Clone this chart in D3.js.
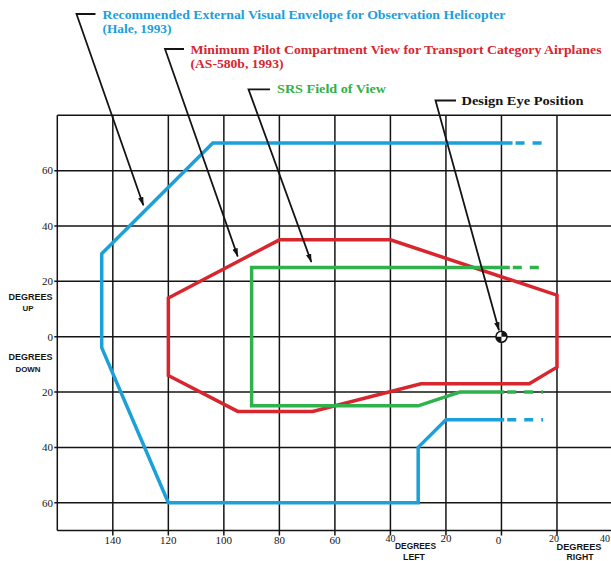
<!DOCTYPE html>
<html>
<head>
<meta charset="utf-8">
<script src="https://cdn.jsdelivr.net/npm/d3@7"></script>
<style>
  html, body { margin: 0; padding: 0; background: #fff; }
  svg { display: block; }
</style>
</head>
<body>
<svg id="chart" width="611" height="561"></svg>
<script>
// Angular field-of-view envelopes (degrees; x: + right / - left, y: + up / - down)

const xGrid = [-160, -140, -120, -100, -80, -60, -40, -20, 0, 20, 40];
const yGrid = [80, 60, 40, 20, 0, -20, -40, -60, -70];
const xTickValues = [-140, -120, -100, -80, -60, -40, -20, 0, 20, 40];
const xTickLabels = ["140", "120", "100", "80", "60", "40", "20", "0", "20", "40"];
const yTickValues = [60, 40, 20, 0, -20, -40, -60];
const yTickLabels = ["60", "40", "20", "0", "20", "40", "60"];

// Recommended external visual envelope, observation helicopter (Hale, 1993)
const helicopterSolid = [[4, 70], [-104, 70], [-144, 30], [-144, -4], [-120, -60],
                         [-30, -60], [-30, -40], [-20, -30], [1, -30]];
const helicopterDashed = [[[4, 70], [17, 70]], [[1, -30], [15, -30]]];

// Minimum pilot compartment view, transport category airplanes (AS-580b, 1993)
const transportView = [[-80, 35], [-40, 35], [20, 15], [20, -11], [10, -17], [-29, -17],
                       [-68, -27], [-95, -27], [-120, -14], [-120, 14]];

// SRS field of view
const srsSolid = [[3, 25], [-90, 25], [-90, -25], [-30, -25], [-15, -20], [1, -20]];
const srsDashed = [[[3, 25], [15, 25]], [[1, -20], [15, -20]]];

// Design eye position
const designEye = [0, 0];

const colors = { blue: "#1ca0da", red: "#d8262f", green: "#2fb14c", ink: "#141414" };

const svg = d3.select("#chart");
const x = d3.scaleLinear().domain([-160, 40]).range([57.3, 612.5]);
const y = d3.scaleLinear().domain([80, -70]).range([115.3, 530.4]);
const line = d3.line().x(d => x(d[0])).y(d => y(d[1]));

// grid
const grid = svg.append("g").attr("stroke", colors.ink).attr("stroke-width", 1.5).attr("fill", "none");
grid.selectAll(".v").data(xGrid).join("line")
  .attr("x1", d => x(d)).attr("x2", d => x(d))
  .attr("y1", y(80)).attr("y2", d => y(-70) + (d === -160 ? 0 : 5));
grid.selectAll(".h").data(yGrid).join("line")
  .attr("y1", d => y(d)).attr("y2", d => y(d))
  .attr("x1", d => x(-160) - (d === 80 || d === -70 ? 0 : 3)).attr("x2", 611);

// tick labels
const tickFont = "'Liberation Serif', 'DejaVu Serif', serif";
svg.append("g").selectAll("text").data(yTickValues).join("text")
  .attr("x", 53).attr("y", d => y(d)).attr("dy", "0.35em")
  .attr("text-anchor", "end").attr("font-family", tickFont).attr("font-size", 11)
  .attr("fill", colors.ink).text((d, i) => yTickLabels[i]);
svg.append("g").selectAll("text").data(xTickValues).join("text")
  .attr("x", d => d === 40 ? 610 : x(d) - (d === 0 ? 3 : 0) - (d === 20 ? 3 : 0))
  .attr("y", d => (d === -40 || d === -20 || d === 20 || d === 40) ? 538 : 540)
  .attr("dy", "0.35em").attr("text-anchor", d => d === 40 ? "end" : "middle")
  .attr("font-family", tickFont).attr("font-size", d => (d === -40 || d === 20 || d === 40) ? 10 : 11)
  .attr("fill", colors.ink).text((d, i) => xTickLabels[i]);

// axis captions
const capFont = "'Liberation Sans', 'DejaVu Sans', sans-serif";
const captions = [
  { t: "DEGREES", x: 30.5, y: 297, w: 44, s: 8.5 },
  { t: "UP", x: 28, y: 308.5, w: 11, s: 8 },
  { t: "DEGREES", x: 30.5, y: 357.5, w: 44, s: 8.5 },
  { t: "DOWN", x: 28, y: 369, w: 25, s: 8 },
  { t: "DEGREES", x: 415.5, y: 546, w: 41, s: 9.5 },
  { t: "LEFT", x: 414, y: 556.5, w: 22, s: 9.5 },
  { t: "DEGREES", x: 579, y: 547, w: 45, s: 9.5 },
  { t: "RIGHT", x: 580, y: 556.5, w: 27, s: 9.5 }
];
svg.append("g").selectAll("text").data(captions).join("text")
  .attr("x", d => d.x).attr("y", d => d.y).attr("dy", "0.35em")
  .attr("text-anchor", "middle").attr("font-family", capFont)
  .attr("font-size", d => d.s).attr("font-weight", "bold")
  .attr("textLength", d => d.w).attr("lengthAdjust", "spacingAndGlyphs")
  .attr("fill", colors.ink).text(d => d.t);

// envelopes
const env = svg.append("g").attr("fill", "none").attr("stroke-width", 3.5)
  .attr("stroke-linejoin", "miter").attr("stroke-linecap", "butt");
env.append("path").attr("d", line(helicopterSolid)).attr("stroke", colors.blue);
env.selectAll(".hd").data(helicopterDashed).join("path")
  .attr("d", d => line(d)).attr("stroke", colors.blue).attr("stroke-dasharray", "0 3 9 5");
env.append("path").attr("d", line(transportView) + "Z").attr("stroke", colors.red);
env.append("path").attr("d", line(srsSolid)).attr("stroke", colors.green);
env.selectAll(".sd").data(srsDashed).join("path")
  .attr("d", d => line(d)).attr("stroke", colors.green).attr("stroke-dasharray", "0 3 9 5");

// design eye symbol
const eye = svg.append("g").attr("transform", `translate(${x(designEye[0])},${y(designEye[1])})`);
const r = 5.5;
eye.append("circle").attr("r", r).attr("fill", "#fff");
const arc = d3.arc().innerRadius(0).outerRadius(r);
eye.append("path").attr("d", arc({ startAngle: 0, endAngle: Math.PI / 2 })).attr("fill", colors.ink);
eye.append("path").attr("d", arc({ startAngle: Math.PI, endAngle: Math.PI * 1.5 })).attr("fill", colors.ink);
eye.append("circle").attr("r", r).attr("fill", "none").attr("stroke", colors.ink).attr("stroke-width", 1.6);

// callout labels with leader arrows
svg.append("defs").append("marker")
  .attr("id", "tip").attr("viewBox", "0 0 10 6").attr("refX", 9).attr("refY", 3)
  .attr("markerWidth", 9).attr("markerHeight", 5.5).attr("markerUnits", "userSpaceOnUse")
  .attr("orient", "auto")
  .append("path").attr("d", "M0,0 L10,3 L0,6 Z").attr("fill", colors.ink);

const labelFont = "'Liberation Serif', 'DejaVu Serif', serif";
const callouts = [
  { lines: ["Recommended External Visual Envelope for Observation Helicopter", "(Hale, 1993)"],
    widths: [403, 69], color: colors.blue, tx: 102.5, ty: [18.5, 32.5],
    hook: [76.5, 95.5, 14], tip: [-129, 47.5] },
  { lines: ["Minimum Pilot Compartment View for Transport Category Airplanes", "(AS-580b,  1993)"],
    widths: [411, 93], color: colors.red, tx: 190.5, ty: [53.5, 67.5],
    hook: [165, 184, 49], tip: [-95, 29] },
  { lines: ["SRS Field of View"], widths: [109], color: colors.green, tx: 277, ty: [93],
    hook: [248.5, 270, 89.3], tip: [-68.5, 27] },
  { lines: ["Design Eye Position"], widths: [122], color: colors.ink, tx: 461.5, ty: [105],
    hook: [435.5, 456, 100.5], tip: [-0.9, 2.3] }
];
const co = svg.append("g");
callouts.forEach(c => {
  co.append("path")
    .attr("d", `M${c.hook[1]},${c.hook[2]}H${c.hook[0]}L${x(c.tip[0])},${y(c.tip[1])}`)
    .attr("fill", "none").attr("stroke", colors.ink).attr("stroke-width", 1.8)
    .attr("marker-end", "url(#tip)");
  c.lines.forEach((t, i) => {
    co.append("text").attr("x", c.tx).attr("y", c.ty[i])
      .attr("font-family", labelFont).attr("font-weight", "bold").attr("font-size", 13.5)
      .attr("textLength", c.widths[i]).attr("lengthAdjust", "spacingAndGlyphs")
      .attr("fill", c.color).text(t);
  });
});
</script>
</body>
</html>
